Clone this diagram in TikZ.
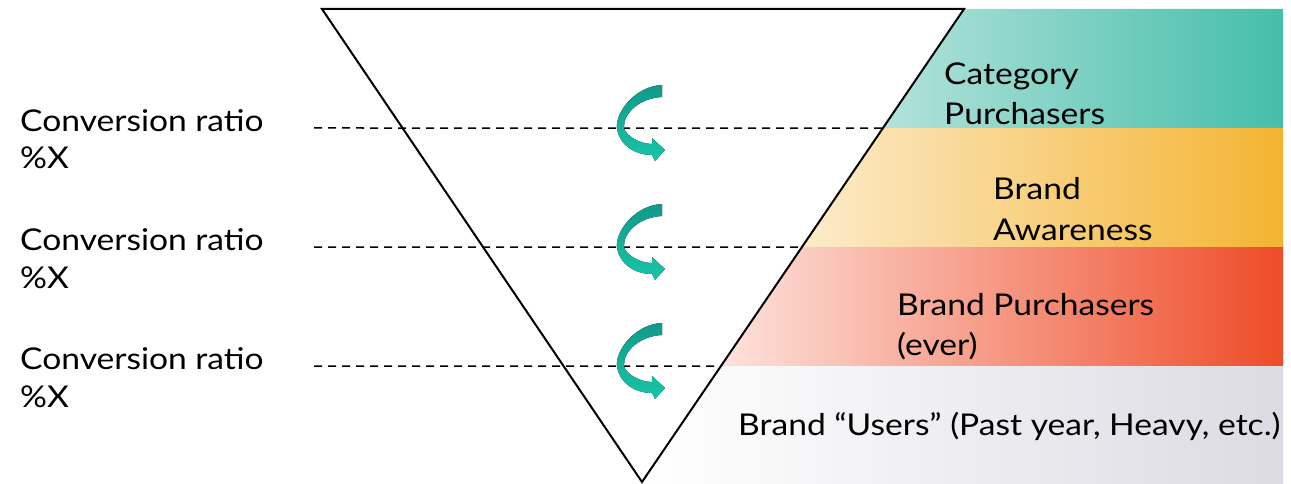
\documentclass[tikz,border=0pt]{standalone}
\usepackage{fontspec}
\setmainfont{Lato}[FakeStretch=1.12]
\usetikzlibrary{calc}
\definecolor{FUNtealL}{HTML}{B3E2DB}
\definecolor{FUNteal}{HTML}{45BEAA}
\definecolor{FUNyellowL}{HTML}{FCEBCB}
\definecolor{FUNyellow}{HTML}{F4B432}
\definecolor{FUNredL}{HTML}{FDE2DC}
\definecolor{FUNred}{HTML}{EE4C28}
\definecolor{FUNgray}{HTML}{DCDBE3}
\definecolor{FUNarrowD}{HTML}{10998A}
\definecolor{FUNarrowL}{HTML}{18C5A8}

\begin{document}
\begin{tikzpicture}[x=1pt,y=-1pt,
    convlabel/.style={anchor=base west, inner sep=0pt, align=left, font=\fontsize{30}{38}\selectfont},
    bandlabel/.style={anchor=base west, inner sep=0pt, align=left, font=\fontsize{30}{40}\selectfont},
    ratioline/.style={dash pattern=on 8pt off 6pt, line width=1.5pt},
    turnarrow/.style={top color=FUNarrowD, bottom color=FUNarrowL}]
  \useasboundingbox (0,0) rectangle (1291,484);
  \coordinate (tl) at (322,9);
  \coordinate (tr) at (964,9);
  \coordinate (apex) at (642,482);
  % bands
  \shade[left color=FUNtealL, right color=FUNteal] (tr) -- (1283,9) -- (1283,128) -- ($(tr)!0.2516!(apex)$) -- cycle;
  \shade[left color=FUNyellowL, right color=FUNyellow] ($(tr)!0.2516!(apex)$) -- (1283,128) -- (1283,247) -- ($(tr)!0.5032!(apex)$) -- cycle;
  \shade[left color=FUNredL, right color=FUNred] ($(tr)!0.5032!(apex)$) -- (1283,247) -- (1283,366) -- ($(tr)!0.7548!(apex)$) -- cycle;
  \shade[left color=white, right color=FUNgray] ($(tr)!0.7548!(apex)$) -- (1283,366) -- (1283,484) -- (641,484) -- cycle;
  % funnel
  \draw[line width=2pt, line join=miter] (tl) -- (tr) -- (apex) -- cycle;
  \foreach \y/\f [count=\i] in {128/0.2516, 247/0.5032, 366/0.7548} {
    \coordinate (dl\i) at (314,\y);
    \coordinate (de\i) at ($(tr)!\f!(apex)$);
    \draw[ratioline] (dl\i) -- (de\i);
    \node[convlabel] (conv\i) at (20,\y+41) {Conversion ratio\\\%X};
    \fill[turnarrow, shift={(640,\y)}] (22,-43) .. controls (-5,-42) and (-25,-15) .. (-23,0)
      .. controls (-21,17) and (-5,27) .. (12,27) -- (15,33) -- (25,22) -- (12,10) -- (12,16)
      .. controls (0,16) and (-14,8) .. (-16,0) .. controls (-17,-15) and (0,-30) .. (22,-31) -- cycle;
  }
  % band texts
  \node[bandlabel] (catP) at (944,125) {Category\\Purchasers};
  \node[bandlabel] (awar) at (993,240) {Brand\\Awareness};
  \node[bandlabel] (brandP) at (897,355) {Brand Purchasers\\(ever)};
  \node[bandlabel] (users) at (738,435) {Brand “Users” (Past year, Heavy, etc.)};
\end{tikzpicture}
\end{document}
